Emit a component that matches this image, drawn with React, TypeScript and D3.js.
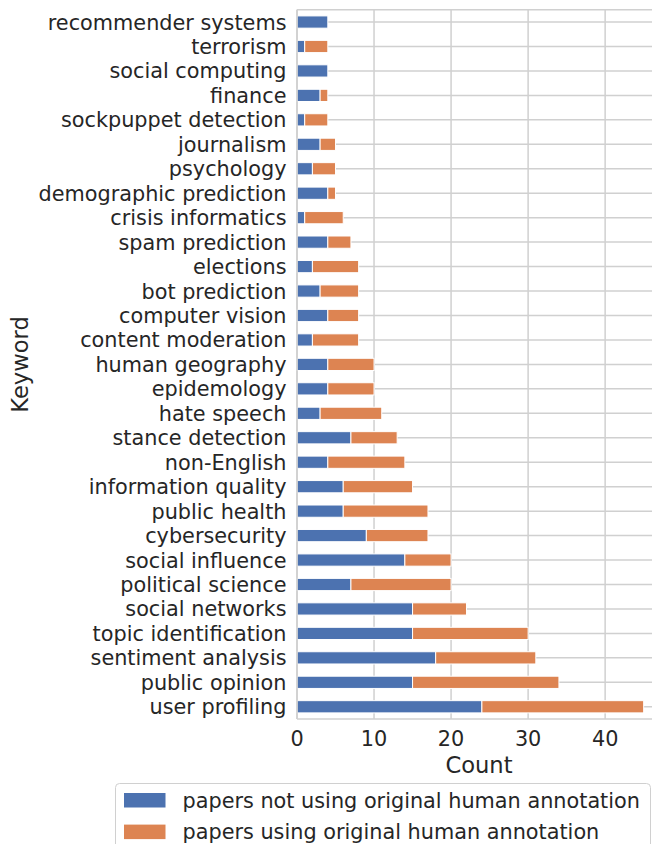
import * as d3 from "d3";

const keywords = [
  "recommender systems", "terrorism", "social computing", "finance",
  "sockpuppet detection", "journalism", "psychology", "demographic prediction",
  "crisis informatics", "spam prediction", "elections", "bot prediction",
  "computer vision", "content moderation", "human geography", "epidemology",
  "hate speech", "stance detection", "non-English", "information quality",
  "public health", "cybersecurity", "social influence", "political science",
  "social networks", "topic identification", "sentiment analysis",
  "public opinion", "user profiling",
];
const notOriginal = [4, 1, 4, 3, 1, 3, 2, 4, 1, 4, 2, 3, 4, 2, 4, 4, 3, 7, 4, 6, 6, 9, 14, 7, 15, 15, 18, 15, 24];
const original = [0, 3, 0, 1, 3, 2, 3, 1, 5, 3, 6, 5, 4, 6, 6, 6, 8, 6, 10, 9, 11, 8, 6, 13, 7, 15, 13, 19, 21];
const xTicks = [0, 10, 20, 30, 40];
const seriesNames = [
  "papers not using original human annotation",
  "papers using original human annotation",
];
const COLORS = ["#4c72b0", "#dd8452"];

const W = 652;
const H = 844;
const PLOT = { left: 297, top: 9.8, bottom: 719, right: 661 };
const FONT = "DejaVu Sans, sans-serif";
const INK = "#262626";
const GRID = "#d0d0d0";

export default function App() {
  const x = d3.scaleLinear().domain([0, 47.25]).range([PLOT.left, PLOT.right]);
  const y = d3
    .scaleBand<string>()
    .domain(keywords)
    .range([PLOT.top, PLOT.bottom])
    .paddingInner(0.5)
    .paddingOuter(0.25);
  const bw = y.bandwidth();

  const rows = keywords.map((k, i) => ({
    k,
    a: notOriginal[i],
    b: original[i],
    cy: (y(k) ?? 0) + bw / 2,
  }));

  return (
    <svg
      width={W}
      height={H}
      viewBox={`0 0 ${W} ${H}`}
      style={{ position: "absolute", left: 0, top: 0, background: "#fff" }}
      fontFamily={FONT}
    >
      <defs>
        <clipPath id="page">
          <rect x={0} y={0} width={W} height={H} />
        </clipPath>
      </defs>
      <g clipPath="url(#page)">
        {/* grid */}
        {xTicks.map((t) => (
          <line key={t} x1={x(t)} x2={x(t)} y1={PLOT.top} y2={PLOT.bottom} stroke={GRID} strokeWidth={1.5} />
        ))}
        {rows.map((r) => (
          <line key={r.k} x1={PLOT.left} x2={PLOT.right} y1={r.cy} y2={r.cy} stroke={GRID} strokeWidth={1.5} />
        ))}

        {/* bars */}
        {rows.map((r) => (
          <g key={r.k}>
            <rect x={x(0)} y={y(r.k)} width={x(r.a) - x(0)} height={bw} fill={COLORS[0]} stroke="#fff" strokeWidth={1} />
            {r.b > 0 && (
              <rect x={x(r.a)} y={y(r.k)} width={x(r.a + r.b) - x(r.a)} height={bw} fill={COLORS[1]} stroke="#fff" strokeWidth={1} />
            )}
          </g>
        ))}

        {/* spines */}
        <line x1={PLOT.left} x2={PLOT.left} y1={PLOT.top} y2={PLOT.bottom} stroke={GRID} strokeWidth={1.6} />
        <line x1={PLOT.left} x2={PLOT.right} y1={PLOT.top} y2={PLOT.top} stroke={GRID} strokeWidth={1.6} />
        <line x1={PLOT.left} x2={PLOT.right} y1={PLOT.bottom} y2={PLOT.bottom} stroke={GRID} strokeWidth={1.6} />

        {/* y tick labels */}
        {rows.map((r) => (
          <text key={r.k} x={PLOT.left - 10.5} y={r.cy} dy="0.36em" textAnchor="end" fontSize={20.8} fill={INK}>
            {r.k}
          </text>
        ))}

        {/* x tick labels */}
        {xTicks.map((t) => (
          <text key={t} x={x(t)} y={745.5} textAnchor="middle" fontSize={20.8} fill={INK}>
            {t}
          </text>
        ))}

        <text x={479} y={773} textAnchor="middle" fontSize={22.6} fill={INK}>Count</text>
        <text transform="translate(28,364.5) rotate(-90)" textAnchor="middle" fontSize={22.6} fill={INK}>Keyword</text>

        {/* legend */}
        <rect x={115.5} y={783.5} width={535} height={80} rx={4} fill="#fff" fillOpacity={0.8} stroke={GRID} strokeWidth={1} />
        {seriesNames.map((s, i) => (
          <g key={s} transform={`translate(0,${800 + i * 31.6})`}>
            <rect x={124} y={-7} width={41.5} height={14.5} fill={COLORS[i]} />
            <text x={182.5} y={0} dy="0.36em" fontSize={20.8} fill={INK}>{s}</text>
          </g>
        ))}
      </g>
    </svg>
  );
}
